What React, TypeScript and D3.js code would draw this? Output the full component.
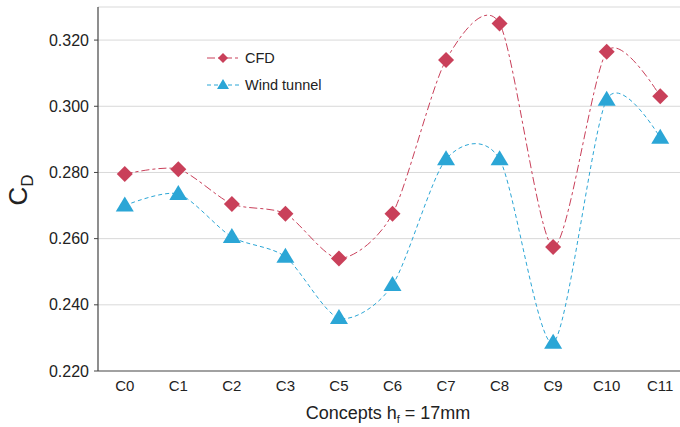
import React from "react";
import * as d3 from "d3";

const categories = ["C0", "C1", "C2", "C3", "C5", "C6", "C7", "C8", "C9", "C10", "C11"];
const cfdValues = [0.2795, 0.281, 0.2705, 0.2675, 0.254, 0.2675, 0.314, 0.325, 0.2575, 0.3165, 0.303];
const windValues = [0.270, 0.2735, 0.2605, 0.2545, 0.236, 0.246, 0.284, 0.284, 0.2285, 0.302, 0.2905];
const yTicks = [0.22, 0.24, 0.26, 0.28, 0.30, 0.32];
const gridTicks = [0.24, 0.26, 0.28, 0.30, 0.32, 0.33];

const W = 680, H = 427;
const left = 98, right = 680, top = 7, bottom = 371;
const RED = "#c9405a";
const BLUE = "#2ba6d6";
const FONT = "Liberation Sans, Arial, sans-serif";

export default function App() {
  const x = d3.scalePoint<string>().domain(categories).range([left, 687]).padding(0.5);
  const y = d3.scaleLinear().domain([0.22, 0.33]).range([bottom, top]);
  const line = d3.line<number>()
    .x((_, i) => x(categories[i]) as number)
    .y((d) => y(d))
    .curve(d3.curveCardinal.tension(0.2));
  const diamond = (cx: number, cy: number, r: number) =>
    `M${cx},${cy - r}L${cx + r},${cy}L${cx},${cy + r}L${cx - r},${cy}Z`;
  const tri = (cx: number, cy: number, w: number, h: number) =>
    `M${cx},${cy - h * 0.6}L${cx + w / 2},${cy + h * 0.4}L${cx - w / 2},${cy + h * 0.4}Z`;

  return (
    <svg width={W} height={H} style={{ position: "absolute", left: 0, top: 0, background: "#fff" }} fontFamily={FONT}>
      {gridTicks.map((t) => (
        <line key={t} x1={left} x2={right} y1={y(t)} y2={y(t)} stroke="#d9d9d9" strokeWidth={1} />
      ))}
      <line x1={left} x2={left} y1={top} y2={bottom} stroke="#444" strokeWidth={1.2} />
      <line x1={left} x2={right} y1={bottom} y2={bottom} stroke="#444" strokeWidth={1.2} />
      {yTicks.map((t) => (
        <g key={t}>
          <line x1={left - 4} x2={left} y1={y(t)} y2={y(t)} stroke="#444" />
          <text x={89} y={y(t)} dy="0.35em" textAnchor="end" fontSize={16} fill="#222">{t.toFixed(3)}</text>
        </g>
      ))}
      {categories.map((c) => (
        <text key={c} x={x(c)} y={391} textAnchor="middle" fontSize={15} fill="#222">{c}</text>
      ))}
      <path d={line(cfdValues) || ""} fill="none" stroke={RED} strokeWidth={1} strokeDasharray="8,3,3,3" />
      <path d={line(windValues) || ""} fill="none" stroke={BLUE} strokeWidth={1} strokeDasharray="4,3" />
      {cfdValues.map((v, i) => (
        <path key={i} d={diamond(x(categories[i]) as number, y(v), 8)} fill={RED} />
      ))}
      {windValues.map((v, i) => (
        <path key={i} d={tri(x(categories[i]) as number, y(v), 18, 15)} fill={BLUE} />
      ))}
      {/* legend */}
      <line x1={207} x2={240} y1={58} y2={58} stroke={RED} strokeWidth={1} strokeDasharray="8,3,3,3" />
      <path d={diamond(223, 58, 5)} fill={RED} />
      <text x={245} y={58} dy="0.35em" fontSize={14.5} fill="#222">CFD</text>
      <line x1={207} x2={240} y1={85} y2={85} stroke={BLUE} strokeWidth={1} strokeDasharray="4,3" />
      <path d={tri(223, 85, 12, 10)} fill={BLUE} />
      <text x={245} y={85} dy="0.35em" fontSize={14.5} fill="#222">Wind tunnel</text>
      {/* axis titles */}
      <text transform={`translate(27,190) rotate(-90)`} textAnchor="middle" fontSize={26} fill="#222">
        C<tspan fontSize={17} dy={6}>D</tspan>
      </text>
      <text x={388} y={419} textAnchor="middle" fontSize={18} fill="#222">
        Concepts h<tspan fontSize={11} dy={4}>f</tspan><tspan dy={-4}> = 17mm</tspan>
      </text>
    </svg>
  );
}
